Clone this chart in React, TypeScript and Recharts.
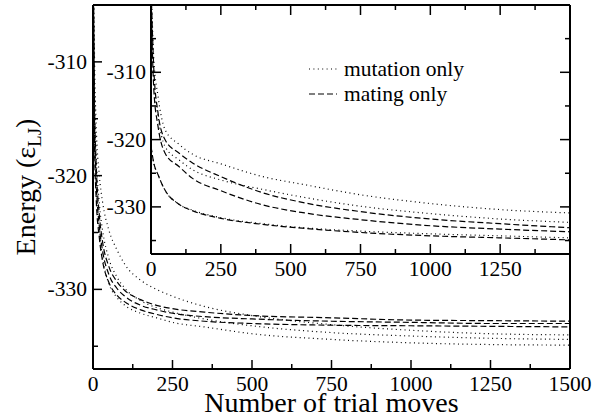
import React from 'react';
import { LineChart, Line, XAxis, YAxis, CartesianGrid, ReferenceLine, Legend } from 'recharts';

// ---------- data ----------
const mainX = [0, 5, 10, 20, 30, 50, 75, 100, 150, 200, 250, 350, 500, 750, 1000, 1250, 1500];
const mainMutationA = [-296, -310, -315.5, -320, -322.3, -324.8, -326.5, -327.8, -329.2, -330.0, -330.6, -331.5, -332.3, -333.1, -333.6, -333.9, -334.0];
const mainMutationB = [-298, -313, -318, -322.5, -324.8, -327.3, -328.9, -329.9, -331.0, -331.6, -332.0, -332.6, -333.2, -333.8, -334.1, -334.3, -334.4];
const mainMutationC = [-299, -316, -321, -325, -327.2, -329.5, -330.7, -331.4, -332.1, -332.5, -332.9, -333.3, -333.9, -334.4, -334.7, -334.85, -334.9];
const mainMatingA = [-298, -314, -319, -323.5, -325.8, -328, -329.3, -330.1, -330.9, -331.4, -331.7, -332.0, -332.3, -332.5, -332.7, -332.75, -332.8];
const mainMatingB = [-299, -316, -320.5, -324.5, -326.6, -328.7, -329.9, -330.6, -331.4, -331.8, -332.1, -332.4, -332.6, -332.8, -332.9, -333.0, -333.0];
const mainMatingC = [-300, -317.5, -322, -325.5, -327.5, -329.4, -330.5, -331.1, -331.8, -332.2, -332.5, -332.8, -333.0, -333.15, -333.2, -333.25, -333.3];

const insetX = [0, 10, 25, 50, 100, 150, 250, 400, 550, 750, 1000, 1250, 1500];
const insetMutationA = [-296, -308, -313.5, -318.5, -320.7, -322.2, -323.6, -325.5, -326.7, -328.2, -329.5, -330.4, -330.9];
const insetMutationB = [-298, -311, -316.5, -321, -323.0, -324.5, -326.0, -327.4, -328.6, -329.9, -331.0, -331.8, -332.3];
const insetMutationC = [-321, -323.5, -325.2, -327.5, -329.6, -330.5, -331.6, -332.5, -333.1, -333.6, -334.0, -334.3, -334.6];
const insetMatingA = [-297, -309.5, -316, -320, -322.0, -323.5, -325.5, -327.9, -329.4, -330.7, -331.8, -332.5, -333.1];
const insetMatingB = [-299, -312.5, -318, -322, -324.0, -325.8, -327.6, -329.7, -330.9, -331.9, -332.8, -333.3, -333.7];
const insetMatingC = [-321, -323.5, -325.2, -327.5, -329.6, -330.6, -331.7, -332.6, -333.2, -333.8, -334.3, -334.6, -334.9];

const mainXTicks = [0, 125, 250, 375, 500, 625, 750, 875, 1000, 1125, 1250, 1375, 1500];
const mainYTicks = [-335, -330, -325, -320, -315, -310, -305];
const insetXTicks = [0, 125, 250, 375, 500, 625, 750, 875, 1000, 1125, 1250, 1375, 1500];
const insetYTicks = [-335, -330, -325, -320, -315, -310, -305, -300];

const legendLabels = ['mutation only', 'mating only'];
const xTitle = 'Number of trial moves';

// ---------- tables ----------
const mainData = mainX.map((x, i) => ({
  x,
  mutA: mainMutationA[i], mutB: mainMutationB[i], mutC: mainMutationC[i],
  matA: mainMatingA[i], matB: mainMatingB[i], matC: mainMatingC[i],
}));
const insetData = insetX.map((x, i) => ({
  x,
  mutA: insetMutationA[i], mutB: insetMutationB[i], mutC: insetMutationC[i],
  matA: insetMatingA[i], matB: insetMatingB[i], matC: insetMatingC[i],
}));

// ---------- styles ----------
const FONT = 'Liberation Serif, Times New Roman, Times, serif';
const TICK_FS = 21.5;
const DOT = '1 3.4';
const DASH = '6 3';
const LW = 1.2;
const INSET_W = 419;
const INSET_H = 249;

const MainXTick = (props: any) => {
  const { x, y, payload } = props;
  const v = payload.value;
  const major = v % 250 === 0;
  return (
    <g>
      <line x1={x} y1={y} x2={x} y2={y - (major ? 9 : 5)} stroke="#000" strokeWidth={1.5} />
      {major && (
        <text x={x} y={y + 22} textAnchor="middle" fontSize={TICK_FS} fontFamily={FONT} fill="#000">{v}</text>
      )}
    </g>
  );
};

const MainYTick = (props: any) => {
  const { x, y, payload } = props;
  const v = payload.value;
  const major = v % 10 === 0;
  return (
    <g>
      <line x1={x} y1={y} x2={x + (major ? 9 : 5)} y2={y} stroke="#000" strokeWidth={1.5} />
      {major && (
        <text x={x - 6} y={y + 7} textAnchor="end" fontSize={TICK_FS} fontFamily={FONT} fill="#000">{v}</text>
      )}
    </g>
  );
};

const InsetXTick = (props: any) => {
  const { x, y, payload } = props;
  const v = payload.value;
  const major = v % 250 === 0;
  const len = major ? 10 : 5;
  return (
    <g>
      <line x1={x} y1={y} x2={x} y2={y - len} stroke="#000" strokeWidth={1.5} />
      <line x1={x} y1={y - INSET_H} x2={x} y2={y - INSET_H + len} stroke="#000" strokeWidth={1.5} />
      {major && v < 1500 && (
        <text x={x} y={y + 22} textAnchor="middle" fontSize={TICK_FS} fontFamily={FONT} fill="#000">{v}</text>
      )}
    </g>
  );
};

const InsetYTick = (props: any) => {
  const { x, y, payload } = props;
  const v = payload.value;
  const major = v % 10 === 0;
  const len = major ? 10 : 5;
  return (
    <g>
      <line x1={x} y1={y} x2={x + len} y2={y} stroke="#000" strokeWidth={1.5} />
      <line x1={x + INSET_W} y1={y} x2={x + INSET_W - len} y2={y} stroke="#000" strokeWidth={1.5} />
      {major && v < -300 && (
        <text x={x - 5} y={y + 7} textAnchor="end" fontSize={TICK_FS} fontFamily={FONT} fill="#000">{v}</text>
      )}
    </g>
  );
};

const XTitle = (props: any) => {
  const vb = props.viewBox || { x: 93, y: 369, width: 477, height: 48 };
  return (
    <text x={vb.x + vb.width / 2} y={vb.y + 43} textAnchor="middle" fontSize={28} fontFamily={FONT} fill="#000">{xTitle}</text>
  );
};

const YTitle = (props: any) => {
  const vb = props.viewBox || { x: 0, y: 5, width: 93, height: 364 };
  const cx = 35;
  const cy = vb.y + vb.height / 2;
  return (
    <text x={cx} y={cy} transform={`rotate(-90 ${cx} ${cy})`} textAnchor="middle" fontSize={28} fontFamily={FONT} fill="#000">
      Energy (ε<tspan dy={6} fontSize={19}>LJ</tspan><tspan dy={-6}>)</tspan>
    </text>
  );
};

const renderLegend = () => (
  <svg width={175} height={50} style={{ display: 'block' }}>
    <line x1={0} y1={12} x2={28} y2={12} stroke="#000" strokeWidth={LW} strokeDasharray={DOT} />
    <text x={35} y={19} fontSize={TICK_FS} fontFamily={FONT} fill="#000">{legendLabels[0]}</text>
    <line x1={0} y1={37} x2={28} y2={37} stroke="#000" strokeWidth={LW} strokeDasharray={DASH} />
    <text x={35} y={44} fontSize={TICK_FS} fontFamily={FONT} fill="#000">{legendLabels[1]}</text>
  </svg>
);

const seriesKeys: [string, string][] = [
  ['mutA', DOT], ['mutB', DOT], ['mutC', DOT],
  ['matA', DASH], ['matB', DASH], ['matC', DASH],
];

export default function App() {
  return (
    <div style={{ position: 'absolute', left: 0, top: 0, width: 601, height: 417, background: '#fff' }}>
      <LineChart width={601} height={417} data={mainData} margin={{ top: 5, right: 31, bottom: 0, left: 0 }}>
        <XAxis
          dataKey="x" type="number" domain={[0, 1500]} ticks={mainXTicks} interval={0}
          allowDataOverflow height={48} tickSize={0} tickMargin={0} tickLine={false}
          axisLine={{ stroke: '#000', strokeWidth: 2 }} tick={<MainXTick />} label={<XTitle />}
        />
        <YAxis
          type="number" domain={[-337, -305]} ticks={mainYTicks} interval={0}
          allowDataOverflow width={93} tickSize={0} tickMargin={0} tickLine={false}
          axisLine={{ stroke: '#000', strokeWidth: 2 }} tick={<MainYTick />} label={<YTitle />}
        />
        <ReferenceLine y={-305} stroke="#000" strokeWidth={2} />
        <ReferenceLine x={1500} stroke="#000" strokeWidth={2} />
        {seriesKeys.map(([k, d]) => (
          <Line key={k} dataKey={k} type="monotone" stroke="#000" strokeWidth={LW} strokeDasharray={d} dot={false} activeDot={false} isAnimationActive={false} />
        ))}
      </LineChart>
      <div style={{ position: 'absolute', left: 100, top: 0 }}>
        <LineChart width={501} height={290} data={insetData} margin={{ top: 5, right: 31, bottom: 0, left: 0 }}>
          <CartesianGrid horizontal={false} vertical={false} fill="#fff" fillOpacity={1} />
          <XAxis
            dataKey="x" type="number" domain={[0, 1500]} ticks={insetXTicks} interval={0}
            allowDataOverflow height={36} tickSize={0} tickMargin={0} tickLine={false}
            axisLine={{ stroke: '#000', strokeWidth: 2 }} tick={<InsetXTick />}
          />
          <YAxis
            type="number" domain={[-337, -300]} ticks={insetYTicks} interval={0}
            allowDataOverflow width={51} tickSize={0} tickMargin={0} tickLine={false}
            axisLine={{ stroke: '#000', strokeWidth: 2 }} tick={<InsetYTick />}
          />
          <ReferenceLine y={-300} stroke="#000" strokeWidth={2} />
          <ReferenceLine x={1500} stroke="#000" strokeWidth={2} />
          {seriesKeys.map(([k, d]) => (
            <Line key={k} dataKey={k} type="monotone" stroke="#000" strokeWidth={LW} strokeDasharray={d} dot={false} activeDot={false} isAnimationActive={false} />
          ))}
          <Legend
            layout="horizontal" verticalAlign="middle" align="center"
            content={renderLegend}
            wrapperStyle={{ position: 'absolute', left: 209, top: 57, width: 175, height: 50 }}
          />
        </LineChart>
      </div>
    </div>
  );
}
